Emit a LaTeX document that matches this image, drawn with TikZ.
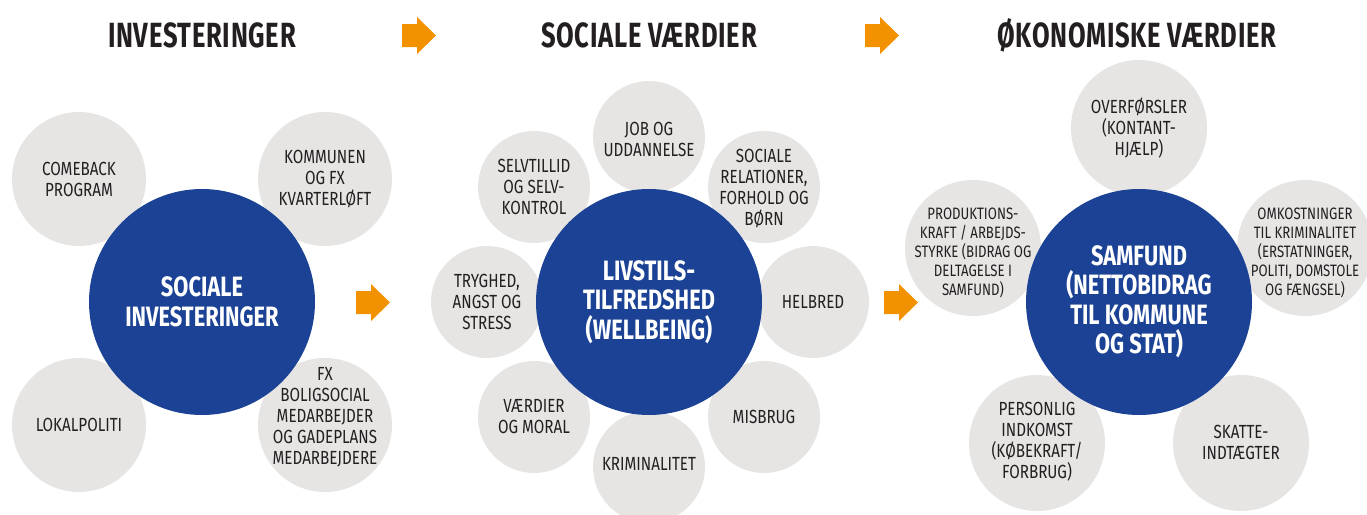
\documentclass[tikz,border=0pt]{standalone}
\usepackage{fontspec}
\setmainfont{Fira Sans}
\newfontfamily\gfont[FakeStretch=0.80]{Fira Sans}
\newfontfamily\bfont[FakeStretch=0.78]{Fira Sans}
\newfontfamily\tfont[FakeStretch=0.73,LetterSpace=2]{Fira Sans}
\definecolor{cblue}{HTML}{1B4294}
\definecolor{cgrey}{HTML}{E6E5E4}
\definecolor{corange}{HTML}{F39200}
\definecolor{ctext}{HTML}{231F20}
\tikzset{
  greyc/.style={circle, fill=cgrey, inner sep=0pt, minimum size=#1},
  greyc/.default=134pt,
  gtext/.style={align=center, text=ctext, inner sep=0pt, font={\gfont\fontsize{19}{21}\selectfont}},
  gtextsmall/.style={align=center, text=ctext, inner sep=0pt, font={\gfont\fontsize{16.5}{19}\selectfont}},
  bluec/.style={circle, fill=cblue, inner sep=0pt, minimum size=226pt},
  btext/.style={align=center, text=white, inner sep=0pt, font={\bfont\bfseries\fontsize{28}{29.5}\selectfont}},
  ttext/.style={anchor=base, text=ctext, inner sep=0pt, font={\tfont\bfseries\fontsize{35}{40}\selectfont}},
  orarrow/.pic={\fill[corange] (-17,-11.5) -- (-2,-11.5) -- (-2,-18.5) -- (17,0) -- (-2,18.5) -- (-2,11.5) -- (-17,11.5) -- cycle;}
}
\begin{document}
\begin{tikzpicture}[x=1pt,y=-1pt]
\useasboundingbox (0,0) rectangle (1367,514);
\clip (0,0) rectangle (1367,514);
% titles
\node[ttext] (t1) at (202,47) {INVESTERINGER};
\node[ttext] (t2) at (649,47) {SOCIALE VÆRDIER};
\node[ttext] (t3) at (1137,47) {ØKONOMISKE VÆRDIER};
\pic (a1) at (419,35.5) {orarrow};
\pic (a2) at (882,35.5) {orarrow};
\pic (a3) at (373,302.5) {orarrow};
\pic (a4) at (901,302.5) {orarrow};
% panel 1
\node[greyc] (p1a) at (79,179) {};
\node[greyc] (p1b) at (325,179) {};
\node[greyc] (p1c) at (79,425) {};
\node[greyc] (p1d) at (325,425) {};
\node[bluec] (p1) at (202,302) {};
\node[gtext] (p1at) at (79,179) {COMEBACK\\PROGRAM};
\node[gtext] (p1bt) at (325,179) {KOMMUNEN\\OG FX\\KVARTERLØFT};
\node[gtext] (p1ct) at (79,425) {LOKALPOLITI};
\node[gtext] (p1dt) at (325,417) {FX\\BOLIGSOCIAL\\MEDARBEJDER\\OG GADEPLANS\\MEDARBEJDERE};
\node[btext] (p1t) at (202,302) {SOCIALE\\INVESTERINGER};
% panel 2
\node[greyc=112pt] (p2a) at (649,137) {};
\node[greyc=112pt] (p2b) at (764,187) {};
\node[greyc=112pt] (p2c) at (813,302) {};
\node[greyc=112pt] (p2d) at (764,417) {};
\node[greyc=112pt] (p2e) at (649,467) {};
\node[greyc=112pt] (p2f) at (534,417) {};
\node[greyc=112pt] (p2g) at (487,302) {};
\node[greyc=112pt] (p2h) at (534,187) {};
\node[bluec] (p2) at (649,302) {};
\node[gtext] (p2at) at (649,139) {JOB OG\\UDDANNELSE};
\node[gtext] (p2bt) at (764,189) {SOCIALE\\RELATIONER,\\FORHOLD OG\\BØRN};
\node[gtext] (p2ct) at (813,302) {HELBRED};
\node[gtext] (p2dt) at (764,417) {MISBRUG};
\node[gtext] (p2et) at (649,464) {KRIMINALITET};
\node[gtext] (p2ft) at (534,417) {VÆRDIER\\OG MORAL};
\node[gtext] (p2gt) at (487,302) {TRYGHED,\\ANGST OG\\STRESS};
\node[gtext] (p2ht) at (534,187) {SELVTILLID\\OG SELV-\\KONTROL};
\node[btext] (p2t) at (649,302) {LIVSTILS-\\TILFREDSHED\\(WELLBEING)};
% panel 3
\node[greyc=136pt] (p3a) at (1139,128) {};
\node[greyc=136pt] (p3b) at (1305,248) {};
\node[greyc=136pt] (p3c) at (1241,443) {};
\node[greyc=136pt] (p3d) at (1037,443) {};
\node[greyc=136pt] (p3e) at (973,248) {};
\node[bluec] (p3) at (1139,302) {};
\node[gtext] (p3at) at (1139,128) {OVERFØRSLER\\(KONTANT-\\HJÆLP)};
\node[gtextsmall] (p3bt) at (1305,253) {OMKOSTNINGER\\TIL KRIMINALITET\\(ERSTATNINGER,\\POLITI, DOMSTOLE\\OG FÆNGSEL)};
\node[gtext] (p3ct) at (1241,442) {SKATTE-\\INDTÆGTER};
\node[gtext] (p3dt) at (1037,442) {PERSONLIG\\INDKOMST\\(KØBEKRAFT/\\FORBRUG)};
\node[gtextsmall] (p3et) at (973,253) {PRODUKTIONS-\\KRAFT / ARBEJDS-\\STYRKE (BIDRAG OG\\DELTAGELSE I\\SAMFUND)};
\node[btext] (p3t) at (1139,302) {SAMFUND\\(NETTOBIDRAG\\TIL KOMMUNE\\OG STAT)};
\end{tikzpicture}
\end{document}
